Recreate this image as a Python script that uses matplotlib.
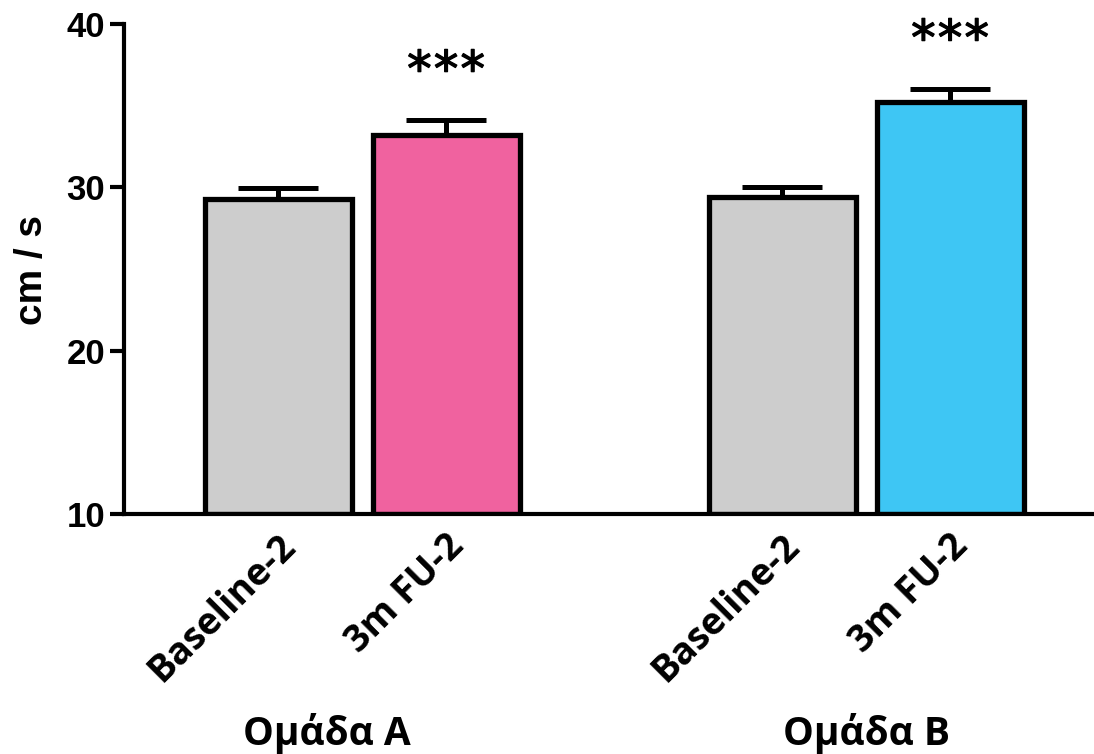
import matplotlib
matplotlib.use("Agg")
import matplotlib.pyplot as plt
import matplotlib.transforms as mtransforms
import matplotlib.patheffects as pe
import numpy as np

# ---- data ----
categories = ["Baseline-2", "3m FU-2", "Baseline-2", "3m FU-2"]
groups = ["Ομάδα A", "Ομάδα B"]
means = [29.3, 33.2, 29.4, 35.2]
sems = [0.65, 0.95, 0.6, 0.85]
significance = ["", "***", "", "***"]
positions = [0, 1, 3, 4]
group_label_x = [0.29, 3.5]
colors = ["#cdcdcd", "#f0629f", "#cdcdcd", "#3ec6f4"]
yticks = [10, 20, 30, 40]

fig = plt.figure(figsize=(10.94, 7.54), dpi=100)
ax = fig.add_axes([0.1138, 0.3182, 0.8862, 0.6500])

ax.bar(positions, np.array(means) - 10, bottom=10, width=0.875, color=colors,
       edgecolor="black", linewidth=3.8, zorder=2)

eb = ax.errorbar(positions, means, yerr=[np.zeros(len(sems)), sems], fmt="none",
                 ecolor="black", elinewidth=3.6, capsize=29, capthick=3.6, zorder=3)
# hide the lower caps (one-sided error bars)
eb[1][0].set_visible(False)

# significance stars, drawn one by one with spacing
for x, m, s, sig in zip(positions, means, sems, significance):
    n = len(sig)
    for k in range(n):
        dx = (k - (n - 1) / 2) * 19.2
        ax.annotate("*", xy=(x, m + s), xytext=(dx, 24.5), textcoords="offset points",
                    ha="center", va="baseline", fontsize=35, family="DejaVu Sans",
                    path_effects=[pe.withStroke(linewidth=1.0, foreground="black")])

ax.set_ylim(10, 40)
ax.set_xlim(-0.914, 4.857)
ax.set_yticks(yticks)
ax.set_yticklabels([str(t) for t in yticks], fontsize=25, fontweight="bold",
                   family="Liberation Sans")
ax.tick_params(axis="y", length=10, width=3, pad=4)
ax.set_xticks([])

for side in ["top", "right"]:
    ax.spines[side].set_visible(False)
ax.spines["left"].set_linewidth(3)
ax.spines["bottom"].set_linewidth(3)

# x category labels
offset = mtransforms.ScaledTranslation(26 / 100, -13 / 100, fig.dpi_scale_trans)
for x, lab in zip(positions, categories):
    ax.text(x, 0, lab, transform=ax.get_xaxis_transform() + offset,
            rotation=45, ha="right", va="top", fontsize=27, fontweight="bold",
            family="Open Sans")

for x, g in zip(group_label_x, groups):
    ax.text(x, -0.4714, g, transform=ax.get_xaxis_transform(), ha="center",
            va="baseline", fontsize=28, fontweight="bold", family="Open Sans")

fig.text(32 / 1094, 1 - 270 / 754, "cm / s", rotation=90, ha="center", va="center",
         fontsize=28, fontweight="bold", family="Liberation Sans")

fig.savefig("out.png", dpi=100)
